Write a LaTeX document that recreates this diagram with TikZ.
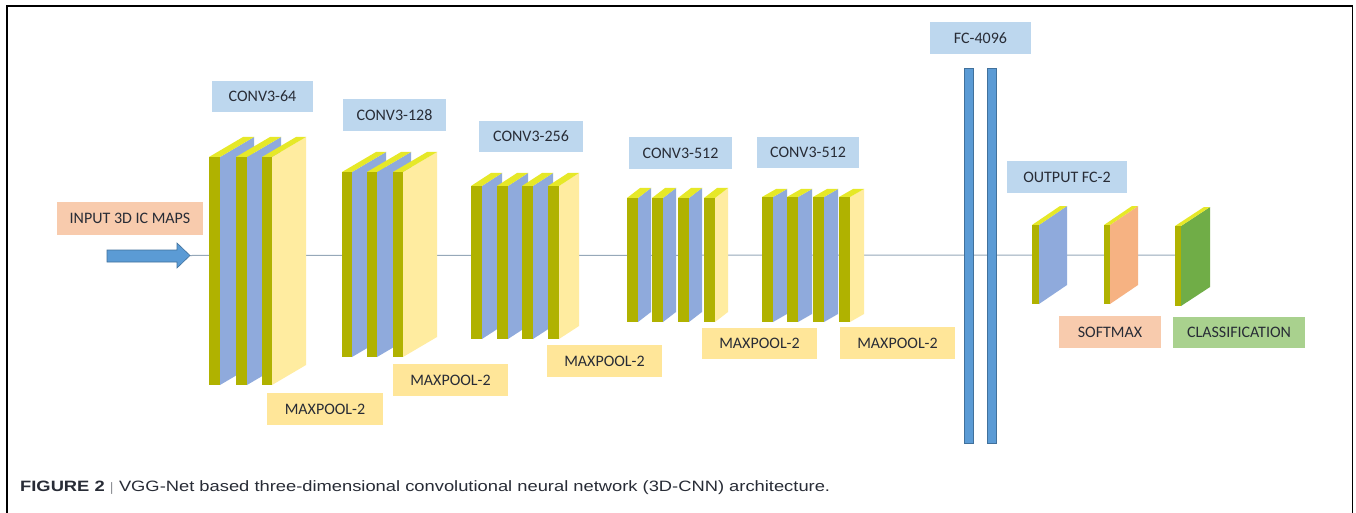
\documentclass[tikz,border=0pt]{standalone}
\usepackage{graphicx}
\usepackage{fontspec}
\setmainfont{Carlito}
\newfontfamily\capfont{Liberation Sans}
\usetikzlibrary{backgrounds}

\definecolor{olivefront}{RGB}{176,178,0}
\definecolor{topyel}{RGB}{230,232,40}
\definecolor{sideblue}{RGB}{143,170,220}
\definecolor{sideyel}{RGB}{255,236,160}
\definecolor{sideorange}{RGB}{246,178,130}
\definecolor{sidegreen}{RGB}{112,173,71}
\definecolor{lblblue}{RGB}{189,215,238}
\definecolor{lblyel}{RGB}{255,230,153}
\definecolor{lblorange}{RGB}{248,203,173}
\definecolor{lblgreen}{RGB}{169,209,142}
\definecolor{fcblue}{RGB}{91,155,213}
\definecolor{fcedge}{RGB}{65,113,156}
\definecolor{txt}{RGB}{40,44,54}
\definecolor{axisline}{RGB}{150,168,185}

% one feature-map slab: name, x, front width, top, bottom, depth dx, depth dy, side colour
\newcommand{\slab}[8]{%
  \fill[#8] ({#2+#3},#4) -- ++(#6,#7) -- ({#2+#3+#6},{#5+#7}) -- ({#2+#3},#5) -- cycle;
  \fill[topyel] (#2,#4) -- ({#2+#3},#4) -- ++(#6,#7) -- ({#2+#6},{#4+#7}) -- cycle;
  \fill[olivefront] (#2,#4) rectangle ({#2+#3},#5);
  \coordinate (#1) at (#2,255);
}

\tikzset{
  lbl/.style={inner sep=0pt, text=txt, font=\fontsize{16}{17}\selectfont},
  fcbar/.style={draw=fcedge, fill=fcblue, line width=0.8pt, inner sep=0pt},
  flowline/.style={draw=axisline, line width=1pt},
}

\begin{document}
\begin{tikzpicture}[x=1pt,y=-1pt]
\useasboundingbox (0,0) rectangle (1356,513);
\draw[line width=1.4pt] (7,513) -- (7,6) -- (1352.5,6) -- (1352.5,513);

% input arrow
\fill[fcblue, draw=fcedge, line width=0.6pt] (107,250) -- (177,250) -- (177,243) -- (190,255.5)
  -- (177,268) -- (177,262) -- (107,262) -- cycle;
\coordinate (arrowtip) at (190,255.5);

% block 1: CONV3-64
\slab{b1a}{209}{11}{157}{385}{34}{-20}{sideblue}
\slab{b1b}{236}{11}{157}{385}{34}{-20}{sideblue}
\slab{b1c}{262}{10}{157}{385}{34}{-20}{sideyel}
% block 2: CONV3-128
\slab{b2a}{342}{10}{172}{357}{34}{-20}{sideblue}
\slab{b2b}{367}{10}{172}{357}{34}{-20}{sideblue}
\slab{b2c}{393}{10}{172}{357}{34}{-20}{sideyel}
% block 3: CONV3-256
\slab{b3a}{471}{11}{186}{339}{20}{-13}{sideblue}
\slab{b3b}{497}{11}{186}{339}{20}{-13}{sideblue}
\slab{b3c}{522}{11}{186}{339}{20}{-13}{sideblue}
\slab{b3d}{548}{11}{186}{339}{20}{-13}{sideyel}
% block 4: CONV3-512
\slab{b4a}{627}{11}{198}{322}{13}{-10}{sideblue}
\slab{b4b}{652}{11}{198}{322}{13}{-10}{sideblue}
\slab{b4c}{678}{11}{198}{322}{13}{-10}{sideblue}
\slab{b4d}{704}{11}{198}{322}{13}{-10}{sideyel}
% block 5: CONV3-512
\slab{b5a}{762}{11}{197}{322}{14}{-8}{sideblue}
\slab{b5b}{787}{11}{197}{322}{14}{-8}{sideblue}
\slab{b5c}{813}{11}{197}{322}{14}{-8}{sideblue}
\slab{b5d}{839}{11}{197}{322}{14}{-8}{sideyel}

% fully connected layers
\node[fcbar, minimum width=9pt, minimum height=375pt] (fc1) at (968.5,255.5) {};
\node[fcbar, minimum width=9pt, minimum height=375pt] (fc2) at (992,255.5) {};

% output, softmax, classification
\slab{out}{1032}{7}{225}{304}{28}{-19}{sideblue}
\slab{smx}{1104}{6}{225}{304}{28}{-19}{sideorange}
\slab{cls}{1175}{6}{226}{306}{29}{-19}{sidegreen}

% labels
\node[lbl, fill=lblorange, minimum width=146pt, minimum height=33pt] (inp) at (130,218.5) {INPUT 3D IC MAPS};
\node[lbl, fill=lblblue, minimum width=101pt, minimum height=31pt] (c64) at (262.5,96.5) {CONV3-64};
\node[lbl, fill=lblblue, minimum width=103pt, minimum height=32pt] (c128) at (394.5,115.5) {CONV3-128};
\node[lbl, fill=lblblue, minimum width=104pt, minimum height=31pt] (c256) at (531,136.5) {CONV3-256};
\node[lbl, fill=lblblue, minimum width=103pt, minimum height=32pt] (c512a) at (680.5,153) {CONV3-512};
\node[lbl, fill=lblblue, minimum width=102pt, minimum height=31pt] (c512b) at (808,152.5) {CONV3-512};
\node[lbl, fill=lblblue, minimum width=101pt, minimum height=32pt] (fc) at (980.5,38) {FC-4096};
\node[lbl, fill=lblblue, minimum width=120pt, minimum height=32pt] (ofc) at (1067,177) {OUTPUT FC-2};
\node[lbl, fill=lblyel, minimum width=116pt, minimum height=32pt] (mp1) at (325,409) {MAXPOOL-2};
\node[lbl, fill=lblyel, minimum width=115pt, minimum height=32pt] (mp2) at (450.5,380) {MAXPOOL-2};
\node[lbl, fill=lblyel, minimum width=115pt, minimum height=32pt] (mp3) at (604.5,361) {MAXPOOL-2};
\node[lbl, fill=lblyel, minimum width=115pt, minimum height=31pt] (mp4) at (759.5,343.5) {MAXPOOL-2};
\node[lbl, fill=lblyel, minimum width=115pt, minimum height=32pt] (mp5) at (897.5,343) {MAXPOOL-2};
\node[lbl, fill=lblorange, minimum width=102pt, minimum height=32pt] (sml) at (1110,332) {SOFTMAX};
\node[lbl, fill=lblgreen, minimum width=132pt, minimum height=31pt] (cll) at (1239,332.5) {CLASSIFICATION};

% white page and the data path behind the layers
\begin{pgfonlayer}{background}
  \fill[white] (0,0) rectangle (1356,513);
  \draw[flowline] (arrowtip) -- (cls);
\end{pgfonlayer}

% caption
\node[anchor=base west, inner sep=0pt, text=txt] (caption) at (20,491.5)
  {\resizebox{810pt}{\height}{\capfont\fontsize{15}{17}\selectfont\textbf{FIGURE 2} {\large$|$} VGG-Net based three-dimensional convolutional neural network (3D-CNN) architecture.}};
\end{tikzpicture}
\end{document}
